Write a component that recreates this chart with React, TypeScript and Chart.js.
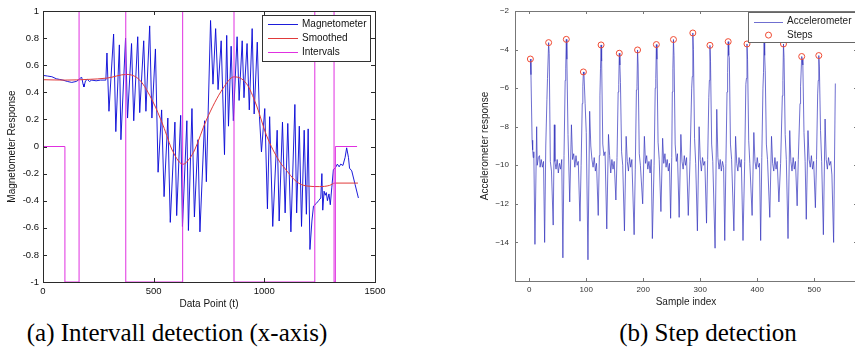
import { useEffect, useRef } from 'react';
import { Chart, registerables } from 'chart.js';

Chart.register(...registerables);

// ---------------- (a) Interval detection ----------------
const leftXTicks = [0, 500, 1000, 1500];
const leftXTickLabels = ['0', '500', '1000', '1500'];
const leftYTicks = [-1, -0.8, -0.6, -0.4, -0.2, 0, 0.2, 0.4, 0.6, 0.8, 1];
const leftYTickLabels = ['-1', '-0.8', '-0.6', '-0.4', '-0.2', '0', '0.2', '0.4', '0.6', '0.8', '1'];

const magnetometerPoints: [number, number][] = [
  [0, 0.525], [20, 0.52], [40, 0.515], [60, 0.5], [75, 0.495], [90, 0.49], [110, 0.48], [130, 0.473],
  [150, 0.48], [160, 0.49], [168, 0.505], [175, 0.51], [181, 0.46], [185, 0.44], [192, 0.485], [200, 0.495],
  [210, 0.48], [220, 0.49], [240, 0.485], [260, 0.49], [284, 0.49],
  [289, 0.69], [298, 0.26], [319, 0.83], [329, 0.11], [345, 0.75], [352, 0.05], [373, 0.8], [382, 0.21],
  [400, 0.76], [410, 0.19], [428, 0.81], [437, 0.25], [455, 0.78], [465, 0.26], [482, 0.89], [492, 0.21],
  [508, 0.72], [520, -0.19], [536, 0.27], [547, -0.37], [564, 0.21], [575, -0.56], [596, 0.18], [604, -0.51],
  [622, 0.23], [630, -0.59], [650, 0.19], [657, -0.62], [673, 0.28], [684, -0.52], [700, 0.05], [709, -0.63],
  [730, 0.19], [738, -0.26], [757, 0.93], [768, 0.46], [780, 0.87], [791, 0.42], [805, 0.78], [820, -0.06],
  [830, 0.82], [838, 0.15], [850, 0.74], [860, 0.19], [877, 0.81], [886, 0.34], [900, 0.78], [908, 0.36],
  [922, 0.76], [932, 0.27], [945, 0.87], [954, 0.24], [968, 0.77], [978, 0.22], [987, -0.04], [1002, 0.28],
  [1014, -0.46], [1024, 0.22], [1038, -0.59], [1058, 0.12], [1067, -0.55], [1082, 0.18], [1094, -0.49],
  [1106, 0.17], [1120, -0.63], [1138, 0.31], [1146, -0.49], [1158, 0.15], [1168, -0.59], [1180, 0.12],
  [1190, -0.5], [1198, 0.13], [1206, -0.76],
  [1215, -0.55], [1222, -0.44], [1235, -0.42], [1245, -0.4], [1255, -0.38], [1260, -0.2], [1264, -0.47],
  [1270, -0.33], [1275, -0.36], [1280, -0.34], [1285, -0.4], [1292, -0.35], [1298, -0.43], [1305, -0.3],
  [1312, -0.17], [1320, -0.16], [1330, -0.13], [1338, -0.15], [1345, -0.13], [1355, -0.14], [1365, -0.08],
  [1372, -0.01], [1380, -0.08], [1385, -0.16], [1395, -0.18], [1410, -0.28], [1425, -0.38],
];

const smoothedPoints: [number, number][] = [
  [0, 0.493], [100, 0.49], [200, 0.495], [290, 0.505], [377, 0.532], [437, 0.49], [497, 0.33], [542, 0.158],
  [587, -0.038], [633, -0.131], [663, -0.087], [685, -0.026], [738, 0.195], [813, 0.428], [863, 0.514],
  [919, 0.465], [964, 0.306], [1009, 0.085], [1069, -0.112], [1092, -0.16], [1145, -0.259], [1190, -0.291],
  [1250, -0.296], [1295, -0.287], [1318, -0.27], [1423, -0.27],
];

const intervalTimes = [0, 99, 163, 374, 631, 863, 1228, 1315, 1321, 1419];
const intervalValues = [0, -1, 1, -1, 1, -1, 1, -1, 0, 0];

// ---------------- (b) Step detection ----------------
const rightXTicks = [0, 100, 200, 300, 400, 500];
const rightXTickLabels = ['0', '100', '200', '300', '400', '500'];
const rightYTicks = [-14, -12, -10, -8, -6, -4, -2];
const rightYTickLabels = ['\u221214', '\u221212', '\u221210', '\u22128', '\u22126', '\u22124', '\u22122'];

const accelerometerPoints: [number, number][] = [
  [2, -4.49], [3, -5.3], [5, -8.7], [6, -9.2], [7, -9.6], [8, -9.3], [10, -14.1], [13, -8.0], [14, -10.0], [16, -9.6], [18, -9.5], [19, -10.1], [21, -9.7], [23, -10.1], [25, -9.8], [27, -14.0], [29, -9.0], [31, -6.6], [32, -5.5],
  [34, -3.64], [35, -4.2], [37, -9.8], [39, -10.3], [42, -13.1], [44, -7.9], [45, -9.8], [47, -10.2], [49, -9.7], [51, -10.4], [53, -9.9], [55, -10.2], [57, -9.7], [59, -14.8], [61, -9.5], [63, -5.6], [64, -5.0],
  [65, -3.47], [66, -4.5], [68, -8.4], [71, -11.9], [74, -7.9], [76, -9.7], [78, -9.4], [80, -10.1], [82, -9.5], [84, -10.0], [86, -9.8], [89, -12.9], [91, -10.0], [93, -6.8], [94, -5.9],
  [95, -5.16], [96, -5.3], [98, -6.8], [100, -8.3], [103, -14.9], [106, -7.2], [108, -9.0], [110, -9.7], [112, -10.1], [114, -9.6], [116, -10.3], [118, -9.9], [121, -12.6], [123, -9.5], [124, -6.4], [125, -5.0],
  [126, -3.76], [127, -4.6], [129, -8.9], [131, -9.5], [133, -9.3], [136, -13.3], [139, -8.4], [141, -9.5], [143, -10.4], [145, -9.7], [147, -10.2], [149, -9.8], [152, -11.8], [154, -9.6], [156, -6.2], [157, -5.8],
  [158, -4.19], [159, -4.8], [160, -5.7], [162, -9.3], [164, -10.0], [167, -13.4], [170, -8.5], [172, -9.8], [174, -10.3], [176, -9.6], [178, -10.1], [180, -9.7], [184, -13.6], [186, -10.2], [188, -6.1], [189, -5.9],
  [190, -4.02], [191, -4.8], [193, -9.4], [195, -10.0], [199, -12.0], [202, -8.5], [204, -9.9], [206, -9.5], [208, -10.2], [210, -9.8], [212, -10.4], [214, -9.7], [216, -13.8], [219, -10.0], [221, -6.0], [222, -5.5],
  [223, -3.74], [224, -4.5], [226, -8.8], [228, -9.7], [231, -12.4], [234, -8.6], [236, -9.9], [238, -9.4], [240, -10.1], [242, -9.7], [244, -10.3], [246, -9.9], [248, -12.75], [250, -9.6], [251, -6.2], [252, -5.0],
  [253, -3.48], [254, -4.3], [256, -8.9], [258, -9.8], [260, -9.4], [263, -12.7], [266, -8.4], [268, -9.8], [270, -10.2], [272, -9.5], [274, -10.0], [276, -9.6], [279, -12.6], [282, -9.8], [285, -6.0], [286, -5.4],
  [287, -3.14], [288, -4.0], [290, -8.6], [292, -9.9], [295, -13.4], [298, -8.0], [300, -9.7], [302, -10.3], [304, -9.6], [306, -10.0], [308, -9.8], [311, -13.0], [313, -9.7], [315, -6.5], [316, -5.6],
  [317, -3.78], [318, -4.6], [320, -8.9], [322, -9.8], [326, -14.3], [329, -7.1], [331, -9.6], [333, -10.2], [335, -9.7], [337, -10.3], [339, -9.8], [341, -10.1], [343, -13.9], [345, -9.9], [347, -6.2], [348, -5.2],
  [349, -3.59], [350, -4.3], [351, -4.4], [353, -8.9], [355, -9.7], [359, -13.4], [362, -8.5], [364, -9.9], [366, -10.3], [368, -9.6], [370, -10.1], [372, -9.7], [375, -13.9], [378, -9.8], [380, -5.8], [381, -5.5],
  [382, -3.71], [383, -4.5], [385, -8.7], [387, -9.9], [391, -12.6], [394, -8.3], [396, -9.8], [398, -10.2], [400, -9.6], [402, -10.1], [404, -9.9], [406, -13.9], [408, -9.6], [410, -6.0], [411, -5.2],
  [412, -3.3], [413, -4.3], [414, -5.1], [416, -8.9], [418, -9.7], [422, -12.7], [425, -8.5], [427, -9.9], [429, -10.3], [431, -9.6], [433, -10.2], [435, -9.8], [438, -11.9], [441, -9.9], [444, -6.4], [445, -5.6],
  [446, -3.71], [447, -4.4], [449, -8.4], [451, -9.7], [454, -13.8], [457, -8.2], [459, -9.8], [461, -10.3], [463, -9.6], [465, -10.2], [467, -9.8], [470, -12.1], [472, -9.7], [475, -6.8], [476, -5.9],
  [478, -4.36], [479, -4.5], [480, -4.8], [482, -8.3], [484, -9.8], [486, -12.8], [489, -8.2], [491, -9.7], [493, -10.1], [495, -9.5], [497, -10.2], [499, -9.8], [502, -12.2], [504, -9.7], [506, -6.3], [507, -5.6],
  [508, -4.31], [509, -4.9], [511, -8.2], [513, -9.8], [516, -13.6], [519, -7.6], [521, -9.7], [523, -10.2], [525, -9.6], [527, -10.0], [529, -9.8], [531, -10.5], [534, -14.0], [537, -5.76],
];

const stepIndex = [2, 34, 65, 95, 126, 158, 190, 223, 253, 287, 317, 349, 382, 412, 446, 478, 508];
const stepValue = [-4.49, -3.64, -3.47, -5.16, -3.76, -4.19, -4.02, -3.74, -3.48, -3.14, -3.78, -3.59, -3.71, -3.3, -3.71, -4.36, -4.31];

// ---------------- helpers ----------------
const SANS = '"Liberation Sans", Arial, Helvetica, sans-serif';
Chart.defaults.font.family = SANS;

const toXY = (pts: [number, number][]) => pts.map(([x, y]) => ({ x, y }));
const px = (v: number) => Math.round(v) + 0.5;

function makeFramePlugin(color: string, tickLen: number) {
  return {
    id: 'matlabFrame',
    afterDatasetsDraw(chart: any) {
      const { ctx, chartArea: a, scales } = chart;
      const xs = scales.x;
      const ys = scales.y;
      ctx.save();
      ctx.strokeStyle = color;
      ctx.lineWidth = 1;
      ctx.beginPath();
      for (const t of xs.ticks) {
        const x = px(xs.getPixelForValue(t.value));
        ctx.moveTo(x, a.bottom);
        ctx.lineTo(x, a.bottom - tickLen);
        ctx.moveTo(x, a.top);
        ctx.lineTo(x, a.top + tickLen);
      }
      for (const t of ys.ticks) {
        const y = px(ys.getPixelForValue(t.value));
        ctx.moveTo(a.left, y);
        ctx.lineTo(a.left + tickLen, y);
        ctx.moveTo(a.right, y);
        ctx.lineTo(a.right - tickLen, y);
      }
      ctx.stroke();
      ctx.strokeRect(px(a.left), px(a.top), Math.round(a.right - a.left), Math.round(a.bottom - a.top));
      ctx.restore();
    },
  };
}

interface LegendCfg {
  dx: number; dy: number; width: number; height: number;
  firstRow: number; rowGap: number; sampleStart: number; sampleEnd: number; textX: number;
  border: string; fontSize: number; textColor: string;
}

function makeLegendPlugin(cfg: LegendCfg) {
  return {
    id: 'matlabLegend',
    afterDraw(chart: any) {
      const { ctx, chartArea } = chart;
      const left = Math.round(chartArea.right + cfg.dx);
      const top = Math.round(chartArea.top + cfg.dy);
      ctx.save();
      ctx.fillStyle = '#ffffff';
      ctx.fillRect(left, top, cfg.width, cfg.height);
      ctx.strokeStyle = cfg.border;
      ctx.lineWidth = 1;
      ctx.strokeRect(left + 0.5, top + 0.5, cfg.width, cfg.height);
      ctx.font = `${cfg.fontSize}px ${SANS}`;
      ctx.textBaseline = 'middle';
      ctx.textAlign = 'left';
      chart.data.datasets.forEach((ds: any, i: number) => {
        const y = top + cfg.firstRow + i * cfg.rowGap;
        if (ds.showLine === false) {
          ctx.beginPath();
          ctx.arc(left + (cfg.sampleStart + cfg.sampleEnd) / 2, y, ds.pointRadius, 0, Math.PI * 2);
          ctx.strokeStyle = ds.pointBorderColor;
          ctx.lineWidth = ds.pointBorderWidth;
          ctx.stroke();
        } else {
          ctx.beginPath();
          ctx.moveTo(left + cfg.sampleStart, Math.round(y) + 0.5);
          ctx.lineTo(left + cfg.sampleEnd, Math.round(y) + 0.5);
          ctx.strokeStyle = ds.borderColor;
          ctx.lineWidth = ds.borderWidth;
          ctx.stroke();
        }
        ctx.fillStyle = cfg.textColor;
        ctx.fillText(ds.label, left + cfg.textX, y);
      });
      ctx.restore();
    },
  };
}

function leftConfig(): any {
  return {
    type: 'line',
    data: {
      datasets: [
        {
          label: 'Magnetometer',
          data: toXY(magnetometerPoints),
          borderColor: 'rgba(10,10,215,0.92)',
          borderWidth: 1,
          pointRadius: 0,
          tension: 0,
          order: 3,
        },
        {
          label: 'Smoothed',
          data: toXY(smoothedPoints),
          borderColor: '#e03a3a',
          borderWidth: 1,
          pointRadius: 0,
          cubicInterpolationMode: 'monotone',
          order: 2,
        },
        {
          label: 'Intervals',
          data: intervalTimes.map((t, i) => ({ x: t, y: intervalValues[i] })),
          borderColor: '#e030e0',
          borderWidth: 1,
          pointRadius: 0,
          stepped: 'before',
          order: 1,
        },
      ],
    },
    options: {
      animation: false,
      responsive: false,
      devicePixelRatio: 1,
      layout: { padding: { left: 0, top: 11, right: 55, bottom: 0 } },
      plugins: { legend: { display: false }, tooltip: { enabled: false } },
      scales: {
        x: {
          type: 'linear',
          min: 0,
          max: 1500,
          afterBuildTicks: (s: any) => { s.ticks = leftXTicks.map((v) => ({ value: v })); },
          afterFit: (s: any) => { s.height = 28; },
          grid: { display: false, drawTicks: false },
          border: { display: false },
          ticks: {
            padding: 4, font: { size: 9.5 }, color: '#111', maxRotation: 0, autoSkip: false,
            callback: (_v: any, i: number) => leftXTickLabels[i],
          },
          title: { display: true, text: 'Data Point (t)', font: { size: 10 }, color: '#111', padding: { top: 0, bottom: 0 } },
        },
        y: {
          type: 'linear',
          min: -1,
          max: 1,
          afterBuildTicks: (s: any) => { s.ticks = leftYTicks.map((v) => ({ value: v })); },
          afterFit: (s: any) => { s.width = 43; },
          grid: { display: false, drawTicks: false },
          border: { display: false },
          ticks: {
            padding: 4, font: { size: 9.5 }, color: '#111', autoSkip: false,
            callback: (_v: any, i: number) => leftYTickLabels[i],
          },
          title: { display: true, text: 'Magnetometer Response', font: { size: 10 }, color: '#111', padding: { top: 6, bottom: 0 } },
        },
      },
    },
    plugins: [
      makeFramePlugin('#2a2a2a', 4),
      makeLegendPlugin({
        dx: -113, dy: 4, width: 108, height: 46, firstRow: 9, rowGap: 14,
        sampleStart: 6, sampleEnd: 36, textX: 40, border: '#333', fontSize: 10, textColor: '#111',
      }),
    ],
  };
}

function rightConfig(): any {
  return {
    type: 'line',
    data: {
      datasets: [
        {
          label: 'Accelerometer',
          data: toXY(accelerometerPoints),
          borderColor: 'rgba(55,55,190,0.72)',
          borderWidth: 1,
          pointRadius: 0,
          tension: 0,
          order: 2,
        },
        {
          label: 'Steps',
          data: stepIndex.map((s, i) => ({ x: s, y: stepValue[i] })),
          showLine: false,
          pointRadius: 3,
          pointStyle: 'circle',
          pointBorderColor: '#f04a32',
          pointBackgroundColor: 'rgba(0,0,0,0)',
          pointBorderWidth: 1,
          order: 1,
        },
      ],
    },
    options: {
      animation: false,
      responsive: false,
      devicePixelRatio: 1,
      layout: { padding: { left: 0, top: 11, right: 13, bottom: 0 } },
      plugins: { legend: { display: false }, tooltip: { enabled: false } },
      scales: {
        x: {
          type: 'linear',
          min: -25,
          max: 575,
          afterBuildTicks: (s: any) => { s.ticks = rightXTicks.map((v) => ({ value: v })); },
          afterFit: (s: any) => { s.height = 29; },
          grid: { display: false, drawTicks: false },
          border: { display: false },
          ticks: {
            padding: 4, font: { size: 8 }, color: '#333', maxRotation: 0, autoSkip: false,
            callback: (_v: any, i: number) => rightXTickLabels[i],
          },
          title: { display: true, text: 'Sample index', font: { size: 10 }, color: '#222', padding: { top: 0, bottom: 2 } },
        },
        y: {
          type: 'linear',
          min: -16,
          max: -2,
          afterBuildTicks: (s: any) => { s.ticks = rightYTicks.map((v) => ({ value: v })); },
          afterFit: (s: any) => { s.width = 85; },
          grid: { display: false, drawTicks: false },
          border: { display: false },
          ticks: {
            padding: 6, font: { size: 8 }, color: '#333', autoSkip: false,
            callback: (_v: any, i: number) => rightYTickLabels[i],
          },
          title: { display: true, text: 'Accelerometer response', font: { size: 10 }, color: '#222', padding: { top: 49, bottom: 0 } },
        },
      },
    },
    plugins: [
      makeFramePlugin('#777', 3),
      makeLegendPlugin({
        dx: -109, dy: 1, width: 118, height: 30, firstRow: 9.5, rowGap: 13.6,
        sampleStart: 6, sampleEnd: 35, textX: 39, border: '#666', fontSize: 10, textColor: '#222',
      }),
    ],
  };
}

const captionStyle = (center: number): any => ({
  position: 'absolute',
  left: center - 250,
  width: 500,
  top: 319,
  textAlign: 'center',
  fontFamily: '"Liberation Serif", "Times New Roman", serif',
  fontSize: 25,
  lineHeight: '28px',
  color: '#000',
  whiteSpace: 'nowrap',
});

export default function App() {
  const leftRef = useRef<HTMLCanvasElement>(null);
  const rightRef = useRef<HTMLCanvasElement>(null);

  useEffect(() => {
    const c1 = new Chart(leftRef.current as HTMLCanvasElement, leftConfig());
    const c2 = new Chart(rightRef.current as HTMLCanvasElement, rightConfig());
    return () => {
      c1.destroy();
      c2.destroy();
    };
  }, []);

  return (
    <div style={{ position: 'fixed', left: 0, top: 0, width: 855, height: 356, overflow: 'hidden', background: '#fff' }}>
      <canvas ref={leftRef} width={430} height={310} style={{ position: 'absolute', left: 0, top: 0 }} />
      <canvas ref={rightRef} width={440} height={310} style={{ position: 'absolute', left: 430, top: 0 }} />
      <div style={captionStyle(177)}>(a) Intervall detection (x-axis)</div>
      <div style={captionStyle(708)}>(b) Step detection</div>
    </div>
  );
}
